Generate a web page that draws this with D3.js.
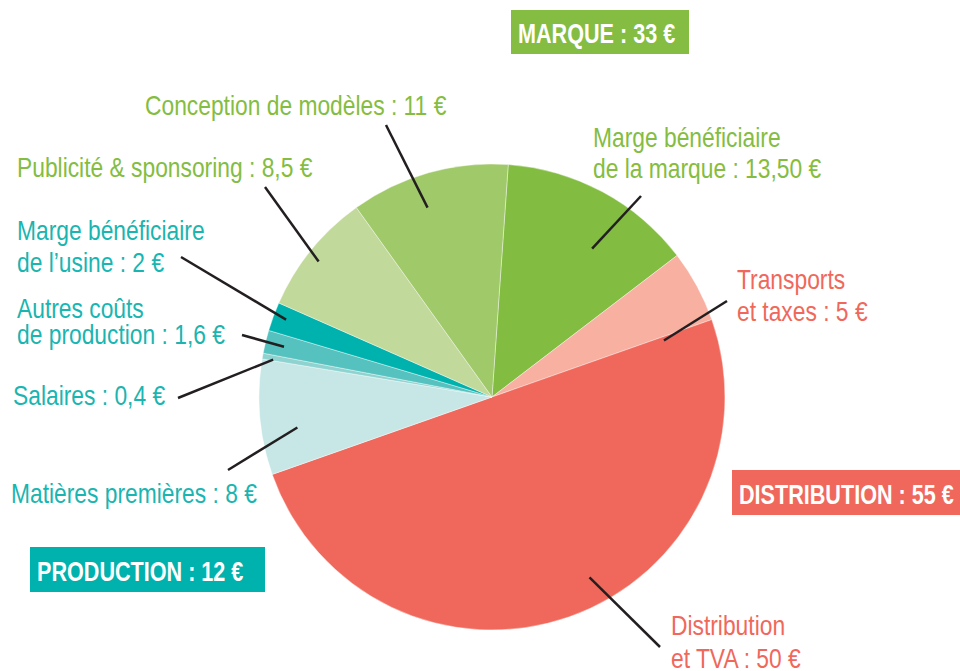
<!DOCTYPE html>
<html>
<head>
<meta charset="utf-8">
<script src="https://cdn.jsdelivr.net/npm/d3@7"></script>
<style>
    body { margin: 0; background: #fff; }
    svg { display: block; }
    .lbl { font-family: "Liberation Sans", Arial, sans-serif; font-size: 27px; }
    .head { font-family: "Liberation Sans", Arial, sans-serif; font-size: 27px; font-weight: bold; fill: #fff; }
</style>
</head>
<body>
<div id="chart"></div>
<script>
// slices, clockwise from the top
let names = ["Marge bénéficiaire de la marque", "Transports et taxes", "Distribution et TVA",
    "Matières premières", "Salaires", "Autres coûts de production", "Marge bénéficiaire de l'usine",
    "Publicité & sponsoring", "Conception de modèles"];
let values = [13.5, 5, 50, 8, 0.4, 1.6, 2, 8.5, 11];
let groups = ["marque", "distribution", "distribution", "production", "production", "production",
    "production", "marque", "marque"];

// label texts, one entry per line
let labelLines = [
    ["Marge bénéficiaire", "de la marque : 13,50 €"],
    ["Transports", "et taxes : 5 €"],
    ["Distribution", "et TVA : 50 €"],
    ["Matières premières : 8 €"],
    ["Salaires : 0,4 €"],
    ["Autres coûts", "de production : 1,6 €"],
    ["Marge bénéficiaire", "de l\u2019usine : 2 €"],
    ["Publicité & sponsoring : 8,5 €"],
    ["Conception de modèles : 11 €"]
];

// group totals
let groupNames = ["marque", "distribution", "production"];
let groupTitles = ["MARQUE : 33 €", "DISTRIBUTION : 55 €", "PRODUCTION : 12 €"];

let sliceColors = ["#82bc41", "#f8b0a0", "#f0685b", "#c6e7e6", "#8fd3d1", "#55c2bf", "#00b2ad", "#c1d99a", "#a0c96a"];
let groupColors = {marque: "#84bd41", distribution: "#f0685b", production: "#1ab5b0"};
let boxColors = {marque: "#84bd41", distribution: "#f0685b", production: "#00b2ad"};

let width = 960, height = 671;
let cx = 492, cy = 397, radius = 233;
let startDeg = 4;
let narrow = 0.845;   // no condensed font installed, squeeze a regular one

// label layout: text anchor point, line spacing, leader line (inner end as angle/radius, outer end)
let labelLayout = [
    {x: 593, y: 147, dy: 31, inAng: 34, inR: 179, out: [641, 196]},
    {x: 737, y: 289, dy: 32, inAng: 71.8, inR: 181, out: [727, 301]},
    {x: 671, y: 635, dy: 33, inAng: 151.6, inR: 205, out: [660, 647]},
    {x: 11, y: 503, dy: 0, inAng: 261.1, inR: 197, out: [228, 470]},
    {x: 13, y: 405, dy: 0, inAng: 279.7, inR: 222, out: [178, 398]},
    {x: 17, y: 318, dy: 26, inAng: 283.6, inR: 214, out: [242, 335]},
    {x: 17, y: 240, dy: 32, inAng: 290.6, inR: 220, out: [181, 257]},
    {x: 17, y: 177, dy: 0, inAng: 308, inR: 220, out: [265, 187]},
    {x: 145, y: 115, dy: 0, inAng: 341.2, inR: 200, out: [386, 125]}
];

let headLayout = [
    {x: 511, y: 10, w: 178, h: 44},
    {x: 732, y: 470, w: 240, h: 45},
    {x: 30, y: 547, w: 235, h: 45}
];

let svg = d3.select("#chart").append("svg")
    .attr("width", width)
    .attr("height", height);

let rad = d => d * Math.PI / 180;

let pie = d3.pie()
    .sort(null)
    .value(d => d)
    .startAngle(rad(startDeg))
    .endAngle(rad(startDeg + 360));

let arc = d3.arc()
    .innerRadius(0)
    .outerRadius(radius);

let pieG = svg.append("g")
    .attr("transform", `translate(${cx}, ${cy})`);

pieG.selectAll("path.slice")
    .data(pie(values))
    .enter()
    .append("path")
    .attr("class", "slice")
    .attr("d", arc)
    .style("fill", (d, i) => sliceColors[i])
    .style("stroke", "#fff")
    .style("stroke-width", 0.4);

// leader lines
labelLayout.forEach(function(l, i) {
    let a = rad(l.inAng);
    svg.append("line")
        .attr("x1", l.out[0])
        .attr("y1", l.out[1])
        .attr("x2", cx + l.inR * Math.sin(a))
        .attr("y2", cy - l.inR * Math.cos(a))
        .style("stroke", "#231f20")
        .style("stroke-width", 2.5);
});

// slice labels
labelLines.forEach(function(lines, i) {
    let l = labelLayout[i];
    let t = svg.append("text")
        .attr("class", "lbl")
        .attr("transform", `translate(${l.x}, ${l.y}) scale(${narrow}, 1)`)
        .style("fill", groupColors[groups[i]]);
    lines.forEach(function(s, j) {
        t.append("tspan")
            .attr("x", 0)
            .attr("y", j * l.dy)
            .text(s);
    });
});

// group boxes
groupNames.forEach(function(g, i) {
    let h = headLayout[i];
    svg.append("rect")
        .attr("x", h.x)
        .attr("y", h.y)
        .attr("width", h.w)
        .attr("height", h.h)
        .style("fill", boxColors[g]);
    svg.append("text")
        .attr("class", "head")
        .attr("transform", `translate(${h.x + 7}, ${h.y + h.h - 11}) scale(0.8, 1)`)
        .text(groupTitles[i]);
});
</script>
</body>
</html>
